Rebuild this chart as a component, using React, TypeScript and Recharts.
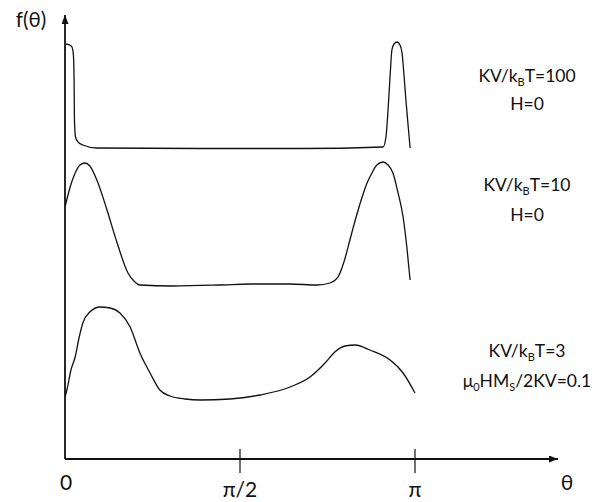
import React from "react"
import { Line, LineChart, XAxis, YAxis } from "recharts"

// theta is in units of pi, f is in arbitrary units (curves are stacked)
const xTicks = [0, 0.5, 1]
const xTickLabels = ["0", "π/2", "π"]

// KV/kBT = 100, H = 0
const theta100 = [0.003, 0.014, 0.02, 0.024, 0.026, 0.027, 0.03, 0.037, 0.051, 0.091, 0.386, 0.671, 0.909, 0.917, 0.923, 0.929, 0.934, 0.94, 0.949, 0.957, 0.963, 0.969, 0.974, 0.98, 0.986]
const f100 = [4.15, 4.14, 4.12, 4.04, 3.79, 3.39, 3.22, 3.17, 3.14, 3.11, 3.105, 3.105, 3.12, 3.22, 3.49, 3.84, 4.09, 4.15, 4.17, 4.14, 4.06, 3.82, 3.59, 3.35, 3.11]

// KV/kBT = 10, H = 0
const theta10 = [0, 0.014, 0.029, 0.043, 0.057, 0.071, 0.091, 0.12, 0.149, 0.18, 0.197, 0.214, 0.309, 0.443, 0.529, 0.643, 0.72, 0.757, 0.78, 0.797, 0.814, 0.831, 0.849, 0.863, 0.877, 0.891, 0.909, 0.923, 0.937, 0.951, 0.966, 0.977, 0.986]
const f10 = [2.52, 2.71, 2.86, 2.94, 2.96, 2.93, 2.79, 2.49, 2.16, 1.86, 1.78, 1.74, 1.73, 1.74, 1.75, 1.75, 1.74, 1.76, 1.82, 1.97, 2.19, 2.41, 2.62, 2.76, 2.86, 2.94, 2.97, 2.94, 2.86, 2.67, 2.42, 2.11, 1.79]

// KV/kBT = 3, mu0 H Ms / 2KV = 0.1
const theta3 = [0, 0.006, 0.017, 0.029, 0.04, 0.051, 0.071, 0.1, 0.129, 0.157, 0.186, 0.214, 0.243, 0.271, 0.3, 0.343, 0.386, 0.471, 0.557, 0.643, 0.7, 0.743, 0.771, 0.8, 0.829, 0.871, 0.929, 0.966, 1.0]
const f3 = [0.62, 0.7, 0.89, 1.02, 1.21, 1.36, 1.47, 1.52, 1.51, 1.46, 1.32, 1.06, 0.86, 0.69, 0.63, 0.6, 0.59, 0.6, 0.64, 0.72, 0.82, 0.96, 1.07, 1.13, 1.14, 1.09, 0.99, 0.86, 0.66]

const toRows = (t: number[], f: number[]) => t.map((v, i) => ({ t: v, f: f[i] }))
const curve100 = toRows(theta100, f100)
const curve10 = toRows(theta10, f10)
const curve3 = toRows(theta3, f3)

const font = "Lato, 'Noto Sans', sans-serif"
const ink = "#111"

function ThetaTick({ x, y, payload }: any) {
  const v = payload.value
  const label = xTickLabels[xTicks.indexOf(v)]
  return (
    <g>
      {v !== 0 && <line x1={x} x2={x} y1={y - 10} y2={y + 14} stroke={ink} strokeWidth={1.2} />}
      <text x={v === 0 ? x + 1 : x} y={y} dy={v === 0 ? 31 : 38} textAnchor="middle" fontFamily={font} fontSize={21} fill={ink}>
        {label}
      </text>
    </g>
  )
}

// text with subscripted pieces: parts alternate normal / subscript
function SubText({ x, y, parts }: { x: number; y: number; parts: string[] }) {
  return (
    <text x={x} y={y}>
      {parts.map((p, i) =>
        i % 2 === 1 ? (
          <tspan key={i} dy={4} fontSize={11}>{p}</tspan>
        ) : (
          <tspan key={i} dy={i === 0 ? 0 : -4}>{p}</tspan>
        )
      )}
    </text>
  )
}

export default function App() {
  return (
    <div style={{ position: "absolute", left: 0, top: 0, background: "#fff" }}>
      <LineChart width={597} height={502} margin={{ top: 15, right: 39, left: 64, bottom: 13 }}>
        <defs>
          <marker id="arrowHead" viewBox="0 0 9 7" refX={9} refY={3.5} markerWidth={9} markerHeight={7} markerUnits="userSpaceOnUse" orient="auto-start-reverse">
            <path d="M0,0 L9,3.5 L0,7 z" fill={ink} />
          </marker>
        </defs>
        <XAxis
          type="number"
          dataKey="t"
          domain={[0, 1.4086]}
          ticks={xTicks}
          interval={0}
          allowDataOverflow
          height={30}
          tickSize={0}
          tickMargin={0}
          tickLine={false}
          tick={(p: any) => <ThetaTick {...p} />}
          axisLine={{ stroke: ink, strokeWidth: 1.8, markerEnd: "url(#arrowHead)" }}
        />
        <YAxis
          type="number"
          domain={[0, 4.44]}
          width={1}
          allowDataOverflow
          tick={false}
          tickLine={false}
          axisLine={{ stroke: ink, strokeWidth: 1.8, markerStart: "url(#arrowHead)" }}
        />
        <Line data={curve100} dataKey="f" type="monotone" dot={false} stroke={ink} strokeWidth={1.3} isAnimationActive={false} />
        <Line data={curve10} dataKey="f" type="monotone" dot={false} stroke={ink} strokeWidth={1.3} isAnimationActive={false} />
        <Line data={curve3} dataKey="f" type="monotone" dot={false} stroke={ink} strokeWidth={1.3} isAnimationActive={false} />

        <g fontFamily={font} fill={ink}>
          <text x={31} y={27} textAnchor="middle" fontSize={20.5}>f(θ)</text>
          <text x={567} y={490} textAnchor="middle" fontSize={21}>θ</text>

          <g fontSize={17.5} textAnchor="middle">
            <SubText x={527} y={82} parts={["KV/k", "B", "T=100"]} />
            <text x={527} y={110}>H=0</text>
            <SubText x={527} y={191} parts={["KV/k", "B", "T=10"]} />
            <text x={527} y={221}>H=0</text>
            <SubText x={527} y={357} parts={["KV/k", "B", "T=3"]} />
            <SubText x={527} y={387} parts={["μ", "0", "HM", "S", "/2KV=0.1"]} />
          </g>
        </g>
      </LineChart>
    </div>
  )
}
